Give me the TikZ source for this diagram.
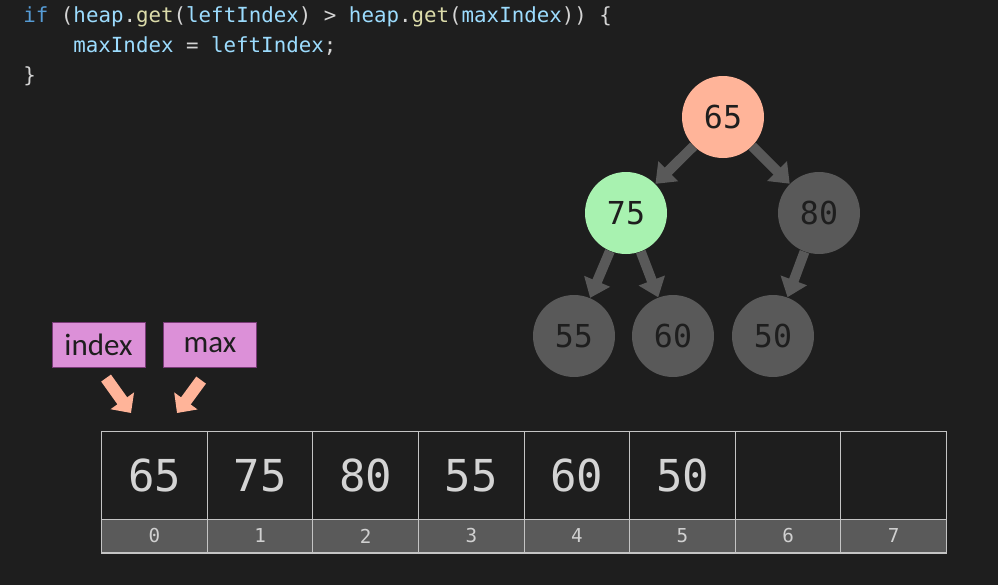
\documentclass[tikz,border=0pt]{standalone}
\usepackage{fontspec}
\setmainfont{Carlito}
\setmonofont{DejaVu Sans Mono}
\usepackage{xcolor}
\usetikzlibrary{arrows.meta}
\definecolor{bgdark}{HTML}{1E1E1E}
\definecolor{nodegray}{HTML}{595959}
\definecolor{salmon}{HTML}{FFB499}
\definecolor{mint}{HTML}{A8F2B0}
\definecolor{tagpink}{HTML}{DC90D8}
\definecolor{tagborder}{HTML}{7A3A78}
\definecolor{cellline}{HTML}{C4C4C4}
\definecolor{stripgray}{HTML}{5A5A5A}
\definecolor{idxtext}{HTML}{D0D0D0}
\definecolor{codetext}{HTML}{D4D4D4}
\definecolor{kw}{HTML}{569CD6}
\definecolor{ident}{HTML}{9CDCFE}
\definecolor{fn}{HTML}{DCDCAA}

\begin{document}
\begin{tikzpicture}[x=0.5pt,y=-0.5pt,
  heapnode/.style={circle,fill=nodegray,minimum size=41pt,inner sep=0pt,text=bgdark,font=\ttfamily\fontsize{15.8}{16}\selectfont},
  treearrow/.style={draw=nodegray,line width=5pt,-{Triangle[width=13.5pt,length=9pt]}},
  cellbox/.style={draw=cellline,line width=0.5pt,minimum width=52.8pt,minimum height=43.65pt,inner sep=0pt,text=codetext,font=\ttfamily\fontsize{22}{22}\selectfont},
  idxbox/.style={draw=cellline,fill=stripgray,line width=0.5pt,minimum width=52.8pt,minimum height=16.85pt,inner sep=0pt,text=idxtext,font=\ttfamily\fontsize{9.6}{10}\selectfont},
  tag/.style={draw=tagborder,fill=tagpink,line width=0.5pt,minimum width=46.5pt,minimum height=22.5pt,inner sep=0pt,text=bgdark,font=\fontsize{15.5}{16}\selectfont},
  pointer/.style={draw=salmon,line width=6pt,-{Triangle[width=14pt,length=7.5pt]}},
  code/.style={anchor=base west,inner sep=0pt,text=codetext,font=\ttfamily\fontsize{10.4}{12}\selectfont}]
\fill[bgdark] (0,0) rectangle (998,585);
\node[code] (line1) at (23,22) {\textcolor{kw}{if} (\textcolor{ident}{heap}.\textcolor{fn}{get}(\textcolor{ident}{leftIndex}) > \textcolor{ident}{heap}.\textcolor{fn}{get}(\textcolor{ident}{maxIndex})) \{};
\node[code] (line2) at (73,52) {\textcolor{ident}{maxIndex} = \textcolor{ident}{leftIndex};};
\node[code] (line3) at (23,82) {\}};
\node[heapnode,fill=salmon] (n65) at (723,117) {65};
\node[heapnode,fill=mint] (n75) at (626,213) {75};
\node[heapnode] (n80) at (819,213) {80};
\node[heapnode] (n55) at (574,336) {55};
\node[heapnode] (n60) at (673,336) {60};
\node[heapnode] (n50) at (773,336) {50};
\draw[treearrow] (n65) -- (n75);
\draw[treearrow] (n65) -- (n80);
\draw[treearrow] (n75) -- (n55);
\draw[treearrow] (n75) -- (n60);
\draw[treearrow] (n80) -- (n50);
\node[tag] (index) at (98.5,344.5) {index};
\node[tag] (max) at (210,345) {max};
\coordinate (idxtip) at (131,413);
\coordinate (maxtip) at (177,413);
\draw[pointer,shorten <=6.5pt] (index.south) -- (idxtip);
\draw[pointer,shorten <=7.5pt] (max.south) -- (maxtip);
\foreach \v [count=\i from 0] in {65,75,80,55,60,50,{},{}} {
  \node[cellbox] (cell\i) at (154.5+105.6*\i,475.4) {\v};
  \node[idxbox] (idx\i) at (154.5+105.6*\i,535.9) {\i};
}
\draw[cellline,line width=1.2pt] (idx0.south west) -- (idx7.south east);
\end{tikzpicture}
\end{document}
